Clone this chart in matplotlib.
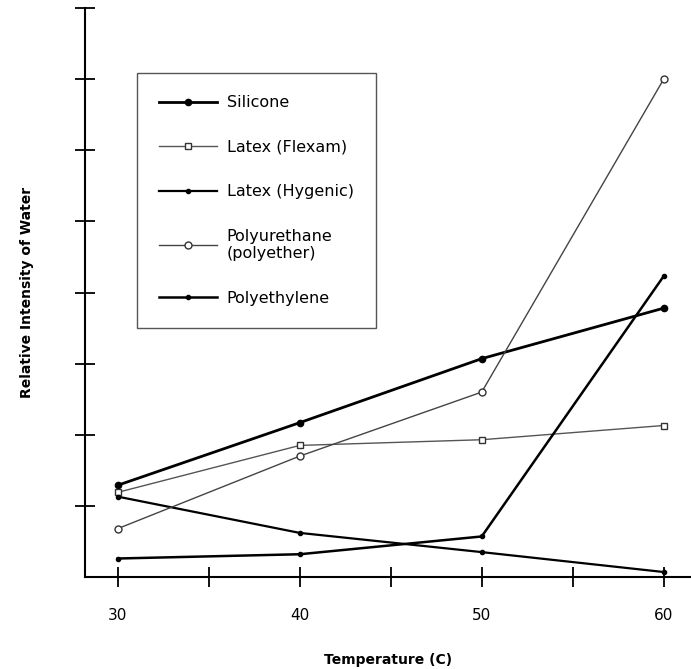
import matplotlib
matplotlib.use("Agg")
import matplotlib.pyplot as plt

temps = [30, 40, 50, 60]
silicone = [1.29, 2.17, 3.07, 3.78]
latex_flexam = [1.19, 1.85, 1.93, 2.13]
latex_hygenic = [1.13, 0.62, 0.35, 0.07]
polyurethane = [0.68, 1.70, 2.60, 7.00]
polyethylene = [0.26, 0.32, 0.57, 4.23]

labels = ["Silicone", "Latex (Flexam)", "Latex (Hygenic)",
          "Polyurethane\n(polyether)", "Polyethylene"]

plt.rcParams['font.family'] = ['DejaVu Sans']
fig = plt.figure(figsize=(6.91, 6.69), dpi=100)
ax = fig.add_axes([85/691, 92/669, 606/691, 569/669])

ax.plot(temps, silicone, color='black', lw=2.0, marker='o', ms=4.5,
        mfc='black', mec='black', label=labels[0])
ax.plot(temps, latex_flexam, color='#555555', lw=1.0, marker='s', ms=5,
        mfc='white', mec='#333333', label=labels[1])
ax.plot(temps, latex_hygenic, color='black', lw=1.6, marker='o', ms=3,
        mfc='black', mec='black', label=labels[2])
ax.plot(temps, polyurethane, color='#444444', lw=1.0, marker='o', ms=5,
        mfc='white', mec='#333333', label=labels[3])
ax.plot(temps, polyethylene, color='black', lw=1.8, marker='o', ms=3,
        mfc='black', mec='black', label=labels[4])

ax.set_xlim(28.2, 61.5)
ax.set_ylim(0, 8.0)
for s in ['top', 'right']:
    ax.spines[s].set_visible(False)
ax.spines['left'].set_linewidth(1.5)
ax.spines['bottom'].set_linewidth(1.5)
ax.spines['left'].set_bounds(0, 8.0)

ax.set_xticks([30, 35, 40, 45, 50, 55, 60])
ax.set_xticklabels(['30', '', '40', '', '50', '', '60'])
ax.set_yticks([1, 2, 3, 4, 5, 6, 7, 8])
ax.set_yticklabels([])
ax.tick_params(axis='both', direction='inout', length=14, width=1.3, colors='black')
ax.tick_params(axis='x', labelsize=11, pad=15)

ax.set_xlabel('Temperature (C)', fontsize=10, fontweight='bold', labelpad=22)
ax.set_ylabel('Relative Intensity of Water', fontsize=10, fontweight='bold', labelpad=26)

leg = ax.legend(loc='upper left', bbox_to_anchor=(0.086, 0.886), borderaxespad=0,
                fontsize=11.5, labelspacing=1.85, handlelength=3.6, handletextpad=0.6,
                borderpad=1.4, fancybox=False, edgecolor='#555555', framealpha=1)
leg.get_frame().set_linewidth(1.0)

fig.savefig('out.png', dpi=100)
